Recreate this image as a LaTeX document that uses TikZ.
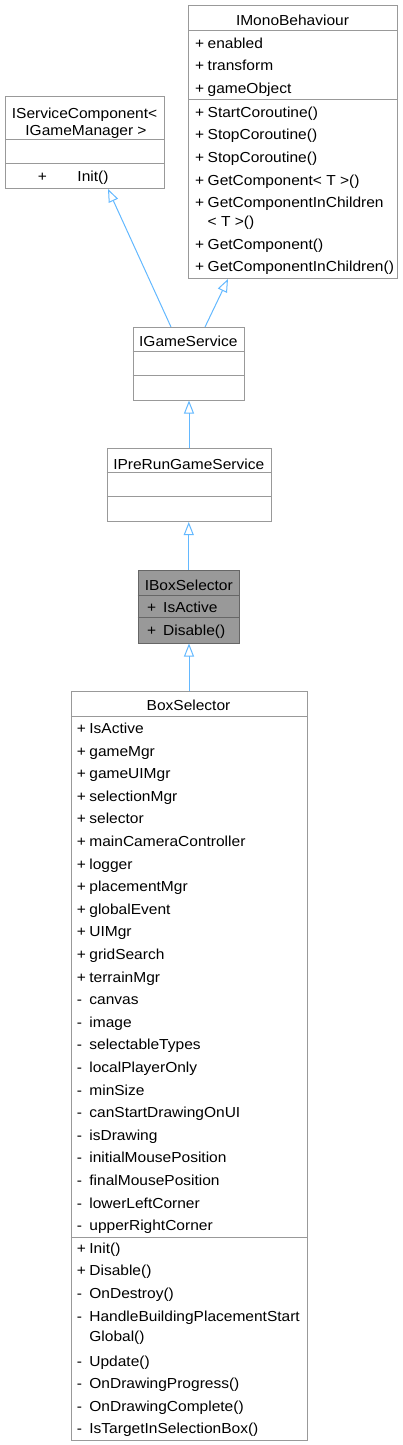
\documentclass[tikz,border=0pt]{standalone}
\usepackage{fontspec}
\setmainfont[FakeStretch=1.07]{Liberation Sans}
\usetikzlibrary{arrows.meta}
\definecolor{edgegray}{HTML}{999999}
\definecolor{curfill}{HTML}{999999}
\definecolor{curedge}{HTML}{666666}
\definecolor{inhblue}{HTML}{63B8FF}
\newcommand{\pubm}[1]{\makebox[12.5pt][l]{+}#1}
\newcommand{\privm}[1]{\makebox[12.5pt][l]{-}#1}

\begin{document}
\begin{tikzpicture}[x=1pt,y=-1pt,
  cls/.style={draw=edgegray,fill=white,line width=1pt,inner sep=0pt,anchor=north west},
  cur/.style={cls,draw=curedge,fill=curfill},
  ttl/.style={font=\fontsize{14.5}{16}\selectfont,inner sep=0pt,anchor=base},
  mem/.style={font=\fontsize{14.5}{16}\selectfont,inner sep=0pt,anchor=base west},
  sep/.style={draw=edgegray,line width=1pt},
  cursep/.style={draw=curedge,line width=1pt},
  inh/.style={draw=inhblue,line width=1pt,-{Triangle[open,length=13pt,width=10pt]}}]
  \useasboundingbox (0,0) rectangle (402,1445);
  % class boxes
  \node[cls,minimum width=159pt,minimum height=92pt] (isc) at (5,96) {};
  \node[cls,minimum width=209pt,minimum height=273pt] (imb) at (188,5) {};
  \node[cls,minimum width=111.5pt,minimum height=72.5pt] (igs) at (132.5,327) {};
  \node[cls,minimum width=164pt,minimum height=73pt] (iprgs) at (106.5,448) {};
  \node[cur,minimum width=101.5pt,minimum height=73pt] (ibs) at (137.5,569.5) {};
  \node[cls,minimum width=236pt,minimum height=749pt] (bs) at (70.5,691) {};
  % compartment lines
  \draw[sep] (isc.west |- 0,139.5) -- (isc.east |- 0,139.5);
  \draw[sep] (isc.west |- 0,163) -- (isc.east |- 0,163);
  \draw[sep] (imb.west |- 0,31) -- (imb.east |- 0,31);
  \draw[sep] (imb.west |- 0,99) -- (imb.east |- 0,99);
  \draw[sep] (igs.west |- 0,351.7) -- (igs.east |- 0,351.7);
  \draw[sep] (igs.west |- 0,375) -- (igs.east |- 0,375);
  \draw[sep] (iprgs.west |- 0,472.7) -- (iprgs.east |- 0,472.7);
  \draw[sep] (iprgs.west |- 0,496.7) -- (iprgs.east |- 0,496.7);
  \draw[cursep] (ibs.west |- 0,595) -- (ibs.east |- 0,595);
  \draw[cursep] (ibs.west |- 0,617.7) -- (ibs.east |- 0,617.7);
  \draw[sep] (bs.west |- 0,716) -- (bs.east |- 0,716);
  \draw[sep] (bs.west |- 0,1237.5) -- (bs.east |- 0,1237.5);
  % IServiceComponent
  \node[ttl] (isc-t1) at (84.5,118.3) {IServiceComponent<};
  \node[ttl] (isc-t2) at (86,135) {IGameManager >};
  \node[mem] (isc-m1) at (37.7,181.7) {\makebox[39.6pt][l]{+}Init()};
  % IMonoBehaviour
  \node[ttl] (imb-t) at (292.5,26) {IMonoBehaviour};
  \node[mem] (imb-a1) at (195,48.3) {\pubm{enabled}};
  \node[mem] (imb-a2) at (195,70.9) {\pubm{transform}};
  \node[mem] (imb-a3) at (195,93.5) {\pubm{gameObject}};
  \node[mem] (imb-m1) at (195,117.3) {\pubm{StartCoroutine()}};
  \node[mem] (imb-m2) at (195,139.9) {\pubm{StopCoroutine()}};
  \node[mem] (imb-m3) at (195,162.5) {\pubm{StopCoroutine()}};
  \node[mem] (imb-m4) at (195,185.1) {\pubm{GetComponent< T >()}};
  \node[mem] (imb-m5) at (195,207.5) {\pubm{GetComponentInChildren}};
  \node[mem] (imb-m5b) at (207.5,226) {< T >()};
  \node[mem] (imb-m6) at (195,249.3) {\pubm{GetComponent()}};
  \node[mem] (imb-m7) at (195,271.7) {\pubm{GetComponentInChildren()}};
  % IGameService, IPreRunGameService
  \node[ttl] (igs-t) at (188.3,346.7) {IGameService};
  \node[ttl] (iprgs-t) at (188.7,469) {IPreRunGameService};
  % IBoxSelector
  \node[ttl] (ibs-t) at (188.8,590) {IBoxSelector};
  \node[mem] (ibs-a1) at (147,612.3) {\makebox[16pt][l]{+}IsActive};
  \node[mem] (ibs-m1) at (147,635) {\makebox[16pt][l]{+}Disable()};
  % BoxSelector
  \node[ttl] (bs-t) at (188.5,710.7) {BoxSelector};
  \node[mem] (bs-a1) at (76.7,733.5) {\pubm{IsActive}};
  \node[mem] (bs-a2) at (76.7,756.1) {\pubm{gameMgr}};
  \node[mem] (bs-a3) at (76.7,778.7) {\pubm{gameUIMgr}};
  \node[mem] (bs-a4) at (76.7,801.3) {\pubm{selectionMgr}};
  \node[mem] (bs-a5) at (76.7,823.9) {\pubm{selector}};
  \node[mem] (bs-a6) at (76.7,846.5) {\pubm{mainCameraController}};
  \node[mem] (bs-a7) at (76.7,869.1) {\pubm{logger}};
  \node[mem] (bs-a8) at (76.7,891.7) {\pubm{placementMgr}};
  \node[mem] (bs-a9) at (76.7,914.3) {\pubm{globalEvent}};
  \node[mem] (bs-a10) at (76.7,936.9) {\pubm{UIMgr}};
  \node[mem] (bs-a11) at (76.7,959.5) {\pubm{gridSearch}};
  \node[mem] (bs-a12) at (76.7,982.1) {\pubm{terrainMgr}};
  \node[mem] (bs-a13) at (76.7,1004.7) {\privm{canvas}};
  \node[mem] (bs-a14) at (76.7,1027.3) {\privm{image}};
  \node[mem] (bs-a15) at (76.7,1049.9) {\privm{selectableTypes}};
  \node[mem] (bs-a16) at (76.7,1072.5) {\privm{localPlayerOnly}};
  \node[mem] (bs-a17) at (76.7,1095.1) {\privm{minSize}};
  \node[mem] (bs-a18) at (76.7,1117.7) {\privm{canStartDrawingOnUI}};
  \node[mem] (bs-a19) at (76.7,1140.3) {\privm{isDrawing}};
  \node[mem] (bs-a20) at (76.7,1162.9) {\privm{initialMousePosition}};
  \node[mem] (bs-a21) at (76.7,1185.5) {\privm{finalMousePosition}};
  \node[mem] (bs-a22) at (76.7,1208.1) {\privm{lowerLeftCorner}};
  \node[mem] (bs-a23) at (76.7,1230.7) {\privm{upperRightCorner}};
  \node[mem] (bs-m1) at (76.7,1253.3) {\pubm{Init()}};
  \node[mem] (bs-m2) at (76.7,1275.9) {\pubm{Disable()}};
  \node[mem] (bs-m3) at (76.7,1298.5) {\privm{OnDestroy()}};
  \node[mem] (bs-m4) at (76.7,1321.1) {\privm{HandleBuildingPlacementStart}};
  \node[mem] (bs-m4b) at (89.2,1341) {Global()};
  \node[mem] (bs-m5) at (76.7,1366) {\privm{Update()}};
  \node[mem] (bs-m6) at (76.7,1388.6) {\privm{OnDrawingProgress()}};
  \node[mem] (bs-m7) at (76.7,1411.2) {\privm{OnDrawingComplete()}};
  \node[mem] (bs-m8) at (76.7,1433.8) {\privm{IsTargetInSelectionBox()}};
  % inheritance arrows
  \draw[inh] ([xshift=38.5pt]igs.north west) -- ([xshift=103pt]isc.south west);
  \draw[inh] ([xshift=72.5pt]igs.north west) -- ([xshift=40pt]imb.south west);
  \draw[inh] (iprgs.north) -- (iprgs.north |- igs.south);
  \draw[inh] (ibs.north) -- (ibs.north |- iprgs.south);
  \draw[inh] (bs.north) -- (bs.north |- ibs.south);
\end{tikzpicture}
\end{document}
